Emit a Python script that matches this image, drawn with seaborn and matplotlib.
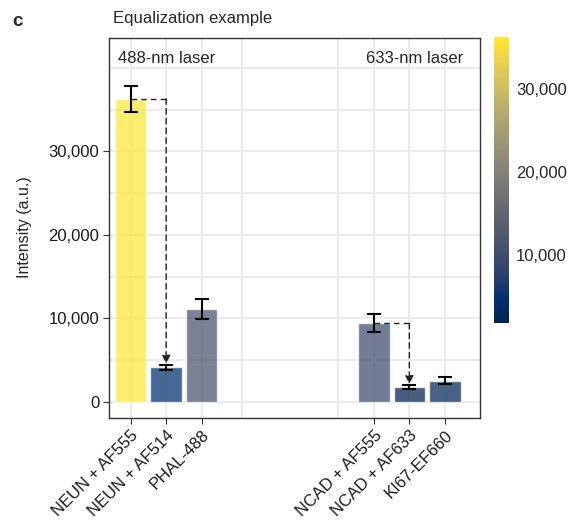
import matplotlib
matplotlib.use("Agg")
import matplotlib.pyplot as plt
import matplotlib.ticker as mticker
import numpy as np
import pandas as pd
import seaborn as sns

# ---------------------------------------------------------------------------
# Data
# ---------------------------------------------------------------------------
labels = ["NEUN + AF555", "NEUN + AF514", "PHAL-488",
          "NCAD + AF555", "NCAD + AF633", "KI67-EF660"]
positions = [0.0, 1.0, 2.0, 6.85, 7.85, 8.85]
intensity = [36300, 4150, 11140, 9420, 1760, 2550]
intensity_err = [1550, 300, 1200, 1060, 240, 400]

panel_labels = ["488-nm laser", "633-nm laser"]
# (from bar index, to bar index) for the dashed equalization arrows
arrows = [(0, 1), (3, 4)]

df = pd.DataFrame({"label": labels, "pos": positions,
                   "intensity": intensity, "err": intensity_err})

sns.set_theme(style="white")
plt.rcParams["font.family"] = ["Liberation Sans", "DejaVu Sans"]

FS = 12
cmap = plt.get_cmap("cividis")
norm = plt.Normalize(min(intensity), max(intensity))
palette = {lab: cmap(norm(v)) for lab, v in zip(labels, intensity)}

fig = plt.figure(figsize=(5.71, 5.25), dpi=100)
ax = fig.add_axes([109 / 571, 1 - 417.7 / 525, 371 / 571, 380.2 / 525])

# grid (ggplot-like)
for x in positions + [3.15, 5.83]:
    ax.axvline(x, color="#EBEBEB", lw=1.5, zorder=0)
for y in np.arange(0, 45000, 5000):
    ax.axhline(y, color="#EBEBEB", lw=1.5, zorder=0)

sns.barplot(data=df, x="pos", y="intensity", hue="label", palette=palette,
            native_scale=True, width=0.89, alpha=0.72, saturation=1,
            errorbar=None, legend=False, ax=ax, zorder=2)

ax.errorbar(df["pos"], df["intensity"], yerr=df["err"], fmt="none",
            ecolor="black", elinewidth=1.5, capsize=5, capthick=1.5, zorder=4)

for i, j in arrows:
    x0, x1 = positions[i], positions[j]
    y0 = intensity[i]
    y1 = intensity[j] + intensity_err[j] + 150
    ax.plot([x0, x1], [y0, y0], ls=(0, (4, 3)), color="#222222", lw=1, zorder=5)
    ax.annotate("", xy=(x1, y1), xytext=(x1, y0),
                arrowprops=dict(arrowstyle="-|>", ls=(0, (4, 3)), color="#222222",
                                lw=1, mutation_scale=12, shrinkA=0, shrinkB=0),
                zorder=5)

ax.set_xlim(-0.61, 9.84)
ax.set_ylim(-1880, 43650)
ax.set_xticks(positions)
ax.set_xticklabels(labels, rotation=45, ha="right", rotation_mode="anchor",
                   fontsize=FS, color="#1a1a1a")
ax.set_yticks([0, 10000, 20000, 30000])
ax.yaxis.set_major_formatter(mticker.FuncFormatter(lambda v, _: f"{int(v):,}"))
ax.tick_params(axis="both", which="both", direction="out", length=4,
               width=0.8, color="#333333", labelsize=FS, labelcolor="#1a1a1a",
               left=True, bottom=True, pad=3)
ax.set_xlabel("")
ax.set_ylabel("Intensity (a.u.)", fontsize=11.5, labelpad=12)
for sp in ax.spines.values():
    sp.set_color("#333333")
    sp.set_linewidth(1)

ax.text(0.025, 0.965, panel_labels[0], transform=ax.transAxes,
        ha="left", va="top", fontsize=FS)
ax.text(0.955, 0.965, panel_labels[1], transform=ax.transAxes,
        ha="right", va="top", fontsize=FS)

fig.text(113 / 571, 1 - 19 / 525, "Equalization example", ha="left",
         va="center", fontsize=FS)
fig.text(12 / 571, 1 - 22 / 525, "c", ha="left", va="center",
         fontsize=13.5, fontweight="bold")

# colorbar
cax = fig.add_axes([494 / 571, 1 - 323 / 525, 15 / 571, 286 / 525])
sm = plt.cm.ScalarMappable(cmap=cmap, norm=norm)
cb = fig.colorbar(sm, cax=cax)
cb.outline.set_visible(False)
cb.set_ticks([10000, 20000, 30000])
cb.ax.yaxis.set_major_formatter(mticker.FuncFormatter(lambda v, _: f"{int(v):,}"))
cb.ax.tick_params(direction="in", length=3, width=0.8, color="white",
                  labelsize=FS, pad=5)

fig.savefig("out.png", dpi=100)
